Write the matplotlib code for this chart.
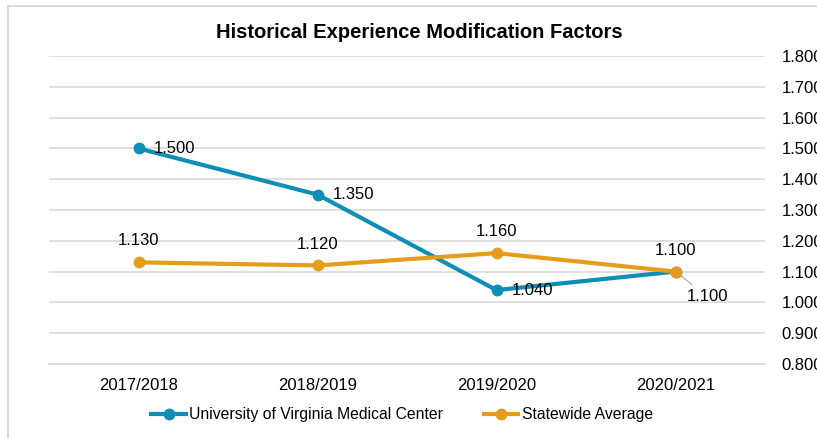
import numpy as np
import matplotlib.pyplot as plt
from matplotlib.lines import Line2D
from matplotlib.ticker import FormatStrFormatter

plt.rcParams['font.family'] = ['Liberation Sans', 'DejaVu Sans']

years = ['2017/2018', '2018/2019', '2019/2020', '2020/2021']
uva = [1.500, 1.350, 1.040, 1.100]
statewide = [1.130, 1.120, 1.160, 1.100]

blue = '#0E8DB5'
orange = '#E59C1C'
grid = '#D9D9D9'
fs = 12

fig = plt.figure(figsize=(8.17, 4.38), dpi=100)
ax = fig.add_axes([49/817, 1 - 364/438, 716/817, 308/438])

x = np.arange(len(years))
ax.plot(x, uva, color=blue, lw=3, marker='o', ms=7.5, zorder=3)
ax.plot(x, statewide, color=orange, lw=3, marker='o', ms=7.5, zorder=3)

# data labels: blue to the right, orange above
for i, v in enumerate(uva[:3]):
    ax.annotate('%.3f' % v, (x[i], v), xytext=(11, 0), textcoords='offset points',
                ha='left', va='center', fontsize=fs)
ax.annotate('%.3f' % uva[3], (x[3], uva[3]), xytext=(23, -18), textcoords='offset points',
            ha='center', va='center', fontsize=fs,
            arrowprops=dict(arrowstyle='-', color='#A6A6A6', lw=0.8, shrinkA=2, shrinkB=4))
for i, v in enumerate(statewide):
    ax.annotate('%.3f' % v, (x[i], v), xytext=(0, 10), textcoords='offset points',
                ha='center', va='bottom', fontsize=fs)

ax.set_xlim(-0.5, 3.5)
ax.set_ylim(0.8, 1.8)
ax.set_yticks(np.arange(0.8, 1.81, 0.1))
ax.yaxis.set_major_formatter(FormatStrFormatter('%.3f'))
ax.yaxis.tick_right()
ax.set_xticks(x)
ax.set_xticklabels(years)
ax.tick_params(axis='both', length=0, labelsize=fs)
ax.tick_params(axis='y', pad=12)
ax.tick_params(axis='x', pad=10)
ax.grid(axis='y', color=grid, lw=1.2)
ax.set_axisbelow(True)
for s in ['top', 'left', 'right']:
    ax.spines[s].set_visible(False)
ax.spines['bottom'].set_color(grid)
ax.spines['bottom'].set_linewidth(1.2)

fig.text(419/817, 1 - 32/438, 'Historical Experience Modification Factors',
         ha='center', va='center', fontsize=14.5, fontweight='bold')

handles = [Line2D([], [], color=blue, lw=3, marker='o', ms=7.5),
           Line2D([], [], color=orange, lw=3, marker='o', ms=7.5)]
fig.legend(handles, ['University of Virginia Medical Center', 'Statewide Average'],
           loc='center', bbox_to_anchor=(402/817, 1 - 415/438), ncol=2, frameon=False,
           fontsize=11.3, handlelength=2.2, columnspacing=2.6, handletextpad=0.2)

# outer chart border (top and left visible)
fig.add_artist(Line2D([8/817, 1], [1 - 6/438, 1 - 6/438], color=grid, lw=1.5))
fig.add_artist(Line2D([8/817, 8/817], [0, 1 - 6/438], color=grid, lw=1.5))

fig.savefig('out.png', dpi=100)
